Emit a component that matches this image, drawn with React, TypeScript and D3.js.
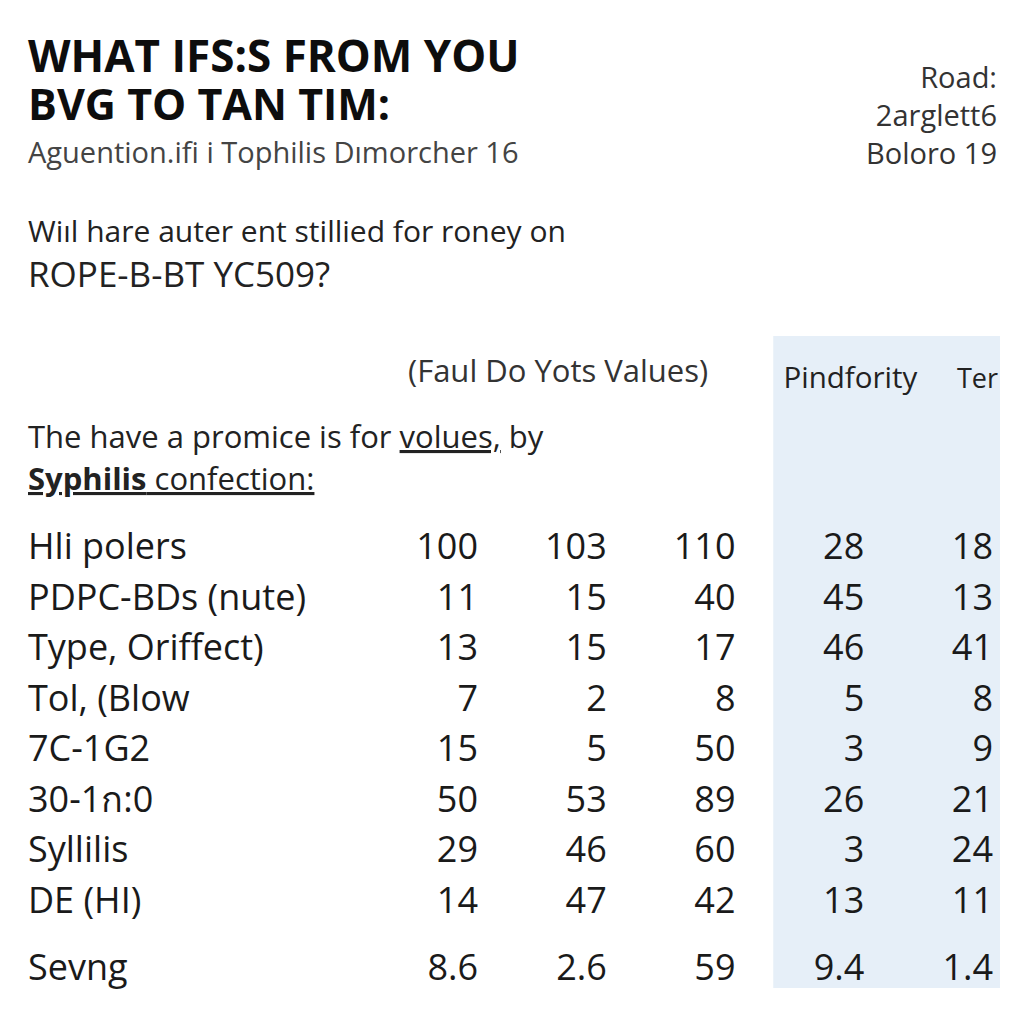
import React, { useEffect, useRef } from "react";
import * as d3 from "d3";

const titleLines = ["WHAT IFS:S FROM YOU", "BVG TO TAN TIM:"];
const subtitle = "Aguention.ifi i Tophilis Dımorcher 16";
const sideNotes = ["Road:", "2arglett6", "Boloro 19"];
const questionLines = ["Wiıl hare auter ent stillied for roney on", "ROPE-B-BT YC509?"];
const groupHeader = "(Faul Do Yots Values)";
const columns = ["c1", "c2", "c3", "Pindfority", "Ter"];
const highlightedColumns = ["Pindfority", "Ter"];
const rowLabels = [
  "Hli polers",
  "PDPC-BDs (nute)",
  "Type, Oriffect)",
  "Tol, (Blow",
  "7C-1G2",
  "30-1ก:0",
  "Syllilis",
  "DE (HI)",
];
const col1 = ["100", "11", "13", "7", "15", "50", "29", "14"];
const col2 = ["103", "15", "15", "2", "5", "53", "46", "47"];
const col3 = ["110", "40", "17", "8", "50", "89", "60", "42"];
const col4 = ["28", "45", "46", "5", "3", "26", "3", "13"];
const col5 = ["18", "13", "41", "8", "9", "21", "24", "11"];
const summaryLabel = "Sevng";
const summaryValues = ["8.6", "2.6", "59", "9.4", "1.4"];

const FONT = "'Open Sans', 'Noto Sans', sans-serif";

export default function App() {
  const ref = useRef<SVGSVGElement>(null);
  useEffect(() => {
    const svg = d3.select(ref.current);
    svg.selectAll("*").remove();
    const W = 1024, H = 1024;
    svg.append("rect").attr("width", W).attr("height", H).attr("fill", "#ffffff");

    const x = d3.scalePoint<string>().domain(columns).range([478, 993]);
    const y = d3.scalePoint<string>().domain(rowLabels).range([559, 913]);
    const ySummary = 980;

    // highlighted band
    const hx0 = (x(highlightedColumns[0]) as number) - 91;
    svg.append("rect")
      .attr("x", hx0).attr("y", 336)
      .attr("width", 1000 - hx0).attr("height", 988 - 336)
      .attr("fill", "#e6eff8");

    // title
    svg.selectAll("text.title").data(titleLines).enter().append("text")
      .attr("class", "title")
      .attr("x", 28).attr("y", (_d, i) => 72 + i * 48)
      .attr("font-family", FONT).attr("font-weight", 700)
      .attr("font-size", (_d, i) => (i === 0 ? 44 : 43)).attr("fill", "#0d0d0d")
      .text((d) => d);

    svg.append("text").attr("x", 28).attr("y", 163)
      .attr("font-family", FONT).attr("font-size", 29).attr("fill", "#444")
      .text(subtitle);

    svg.selectAll("text.side").data(sideNotes).enter().append("text")
      .attr("class", "side")
      .attr("x", 997).attr("y", (_d, i) => 88 + i * 38)
      .attr("text-anchor", "end")
      .attr("font-family", FONT).attr("font-size", 29).attr("fill", "#333")
      .text((d) => d);

    svg.selectAll("text.q").data(questionLines).enter().append("text")
      .attr("class", "q")
      .attr("x", 28).attr("y", (_d, i) => 242 + i * 45)
      .attr("font-family", FONT).attr("font-size", (_d, i) => (i === 0 ? 30 : 35))
      .attr("fill", "#222")
      .text((d) => d);

    svg.append("text").attr("x", 408).attr("y", 382)
      .attr("font-family", FONT).attr("font-size", 31).attr("fill", "#333")
      .text(groupHeader);

    svg.selectAll("text.colh").data(highlightedColumns).enter().append("text")
      .attr("class", "colh")
      .attr("x", (d) => (x(d) as number) + (d === "Ter" ? 5 : 53))
      .attr("y", 388).attr("text-anchor", "end")
      .attr("font-family", FONT).attr("font-size", (d) => (d === "Ter" ? 27 : 29.5))
      .attr("fill", "#222")
      .text((d) => d);

    // intro lines
    const t1 = svg.append("text").attr("x", 28).attr("y", 448)
      .attr("font-family", FONT).attr("font-size", 31).attr("fill", "#222");
    t1.append("tspan").text("The have a promice is for ");
    t1.append("tspan").style("text-decoration", "underline").text("volues,");
    t1.append("tspan").text(" by");

    const t2 = svg.append("text").attr("x", 28).attr("y", 490)
      .attr("font-family", FONT).attr("font-size", 31).attr("fill", "#222")
      .style("text-decoration", "underline");
    t2.append("tspan").attr("font-weight", 700).text("Syphilis");
    t2.append("tspan").text(" confection:");

    // rows
    const valueCols = [col1, col2, col3, col4, col5];
    svg.selectAll("text.rl").data(rowLabels).enter().append("text")
      .attr("class", "rl")
      .attr("x", 28).attr("y", (d) => y(d) as number)
      .attr("font-family", FONT).attr("font-size", 36).attr("fill", "#1a1a1a")
      .text((d) => d);

    valueCols.forEach((vals, ci) => {
      svg.selectAll(`text.v${ci}`).data(vals).enter().append("text")
        .attr("class", `v${ci}`)
        .attr("x", x(columns[ci]) as number)
        .attr("y", (_d, i) => y(rowLabels[i]) as number)
        .attr("text-anchor", "end")
        .attr("font-family", FONT).attr("font-size", 36).attr("fill", "#1a1a1a")
        .text((d) => d);
    });

    svg.append("text").attr("x", 28).attr("y", ySummary)
      .attr("font-family", FONT).attr("font-size", 36).attr("fill", "#1a1a1a")
      .text(summaryLabel);
    svg.selectAll("text.sv").data(summaryValues).enter().append("text")
      .attr("class", "sv")
      .attr("x", (_d, i) => x(columns[i]) as number).attr("y", ySummary)
      .attr("text-anchor", "end")
      .attr("font-family", FONT).attr("font-size", 36).attr("fill", "#1a1a1a")
      .text((d) => d);
  }, []);
  return (
    <svg ref={ref} width={1024} height={1024}
      style={{ position: "absolute", left: 0, top: 0, display: "block" }} />
  );
}
